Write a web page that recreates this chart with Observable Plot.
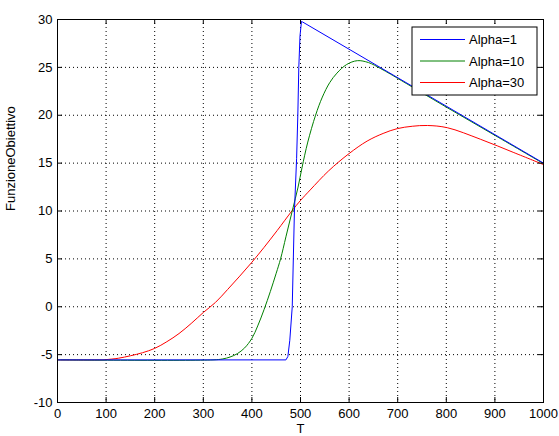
<!DOCTYPE html>
<html><head><meta charset="utf-8">
<script src="https://cdn.jsdelivr.net/npm/d3@7"></script>
<script src="https://cdn.jsdelivr.net/npm/@observablehq/plot@0.6"></script>
<style>body{margin:0;background:#fff}#chart{width:559px;height:436px}</style>
</head><body><div id="chart"></div>
<script>
const seriesNames = ["Alpha=1", "Alpha=10", "Alpha=30"];
const seriesColors = ["#0000ff", "#008000", "#ff0000"];

const tAlpha1 = [0, 470, 474, 478, 483, 487.5, 492, 494.5, 496.5, 499, 502, 504, 1000];
const vAlpha1 = [-5.55, -5.55, -5.2, -3.5, 0, 10, 15.5, 20, 25, 28.3, 29.8, 29.75, 15.0];

const tAlpha10 = [0, 320, 340, 355, 370, 385, 400, 412, 425, 438, 450, 459, 470, 483, 495, 503, 515, 531, 545, 560, 575, 595, 617, 640, 664, 685, 700, 800, 900, 1000];
const vAlpha10 = [-5.55, -5.55, -5.45, -5.25, -4.9, -4.3, -3.3, -2.0, -0.3, 1.6, 3.5, 5, 7.3, 10, 12.5, 14.5, 17.2, 20.0, 21.9, 23.4, 24.4, 25.3, 25.7, 25.5, 24.9, 24.3, 23.85, 20.85, 17.9, 14.95];

const tAlpha30 = [0, 90, 100, 125, 150, 175, 200, 225, 250, 275, 300, 325, 350, 375, 400, 425, 452, 483, 500, 520, 558, 600, 637, 670, 699, 730, 761, 802, 870, 939, 1000];
const vAlpha30 = [-5.55, -5.55, -5.52, -5.38, -5.12, -4.8, -4.35, -3.65, -2.8, -1.75, -0.6, 0.45, 1.8, 3.2, 4.65, 6.2, 7.96, 10.05, 11.1, 12.2, 14.2, 16.0, 17.3, 18.1, 18.6, 18.85, 18.93, 18.7, 17.5, 16.1, 14.85];

const xTicks = [0, 100, 200, 300, 400, 500, 600, 700, 800, 900, 1000];
const yTicks = [-10, -5, 0, 5, 10, 15, 20, 25, 30];

const W = 559, H = 436, mL = 57, mR = 16, mT = 19, mB = 34;
const innerW = W - mL - mR, innerH = H - mT - mB;
const font = "'Liberation Sans', Arial, sans-serif";

const tSets = [tAlpha1, tAlpha10, tAlpha30];
const vSets = [vAlpha1, vAlpha10, vAlpha30];
const rows = [];
seriesNames.forEach((name, k) => {
  tSets[k].forEach((t, i) => rows.push({series: name, T: t, V: vSets[k][i]}));
});

const dotted = {stroke: "#000", strokeOpacity: 1, strokeWidth: 1, strokeDasharray: "1,3"};
const tickStyle = {stroke: "#000", strokeOpacity: 1, strokeWidth: 1};

const chart = Plot.plot({
  width: W, height: H,
  marginLeft: mL, marginRight: mR, marginTop: mT, marginBottom: mB,
  style: {fontFamily: font, fontSize: "13px", background: "#fff", color: "#000"},
  x: {domain: [0, 1000], ticks: xTicks, tickSize: 0, tickPadding: 6, label: null, tickFormat: d => String(d)},
  y: {domain: [-10, 30], ticks: yTicks, tickSize: 0, tickPadding: 5, label: null, tickFormat: d => String(d)},
  color: {domain: seriesNames, range: seriesColors},
  marks: [
    Plot.ruleX(xTicks, {x: d => d, ...dotted}),
    Plot.ruleY(yTicks, {y: d => d, ...dotted}),
    Plot.line(rows.filter(d => d.series === seriesNames[2]), {x: "T", y: "V", stroke: "series", strokeWidth: 1, curve: "catmull-rom"}),
    Plot.line(rows.filter(d => d.series === seriesNames[1]), {x: "T", y: "V", stroke: "series", strokeWidth: 1, curve: "catmull-rom"}),
    Plot.line(rows.filter(d => d.series === seriesNames[0]), {x: "T", y: "V", stroke: "series", strokeWidth: 1, curve: "linear"}),
    Plot.frame({stroke: "#000", strokeWidth: 1}),
    Plot.ruleX(xTicks, {x: d => d, insetTop: innerH - 5, ...tickStyle}),
    Plot.ruleX(xTicks, {x: d => d, insetBottom: innerH - 5, ...tickStyle}),
    Plot.ruleY(yTicks, {y: d => d, insetRight: innerW - 5, ...tickStyle}),
    Plot.ruleY(yTicks, {y: d => d, insetLeft: innerW - 5, ...tickStyle}),
    Plot.text(["T"], {frameAnchor: "bottom", dy: 26, lineAnchor: "middle", fill: "#000"}),
    Plot.text(["FunzioneObiettivo"], {frameAnchor: "left", dx: -47, rotate: -90, fill: "#000"})
  ]
});

// legend box (inside plot, top-right)
const svg = d3.select(chart);
const lx = W - mR - 6 - 125, ly = mT + 8, lw = 125, lh = 68;
const g = svg.append("g").attr("font-family", font).attr("font-size", 13).attr("text-anchor", "start");
g.append("rect").attr("x", lx).attr("y", ly).attr("width", lw).attr("height", lh)
  .attr("fill", "#fff").attr("stroke", "#000").attr("stroke-width", 1);
seriesNames.forEach((name, i) => {
  const yy = ly + 12.5 + i * 21.5;
  g.append("line").attr("x1", lx + 8).attr("x2", lx + 53).attr("y1", yy).attr("y2", yy)
    .attr("stroke", seriesColors[i]).attr("stroke-width", 1);
  g.append("text").attr("x", lx + 57).attr("y", yy).attr("dy", "0.35em")
    .attr("text-anchor", "start").attr("fill", "#000").text(name);
});

document.getElementById("chart").appendChild(chart);
</script>
</body></html>
